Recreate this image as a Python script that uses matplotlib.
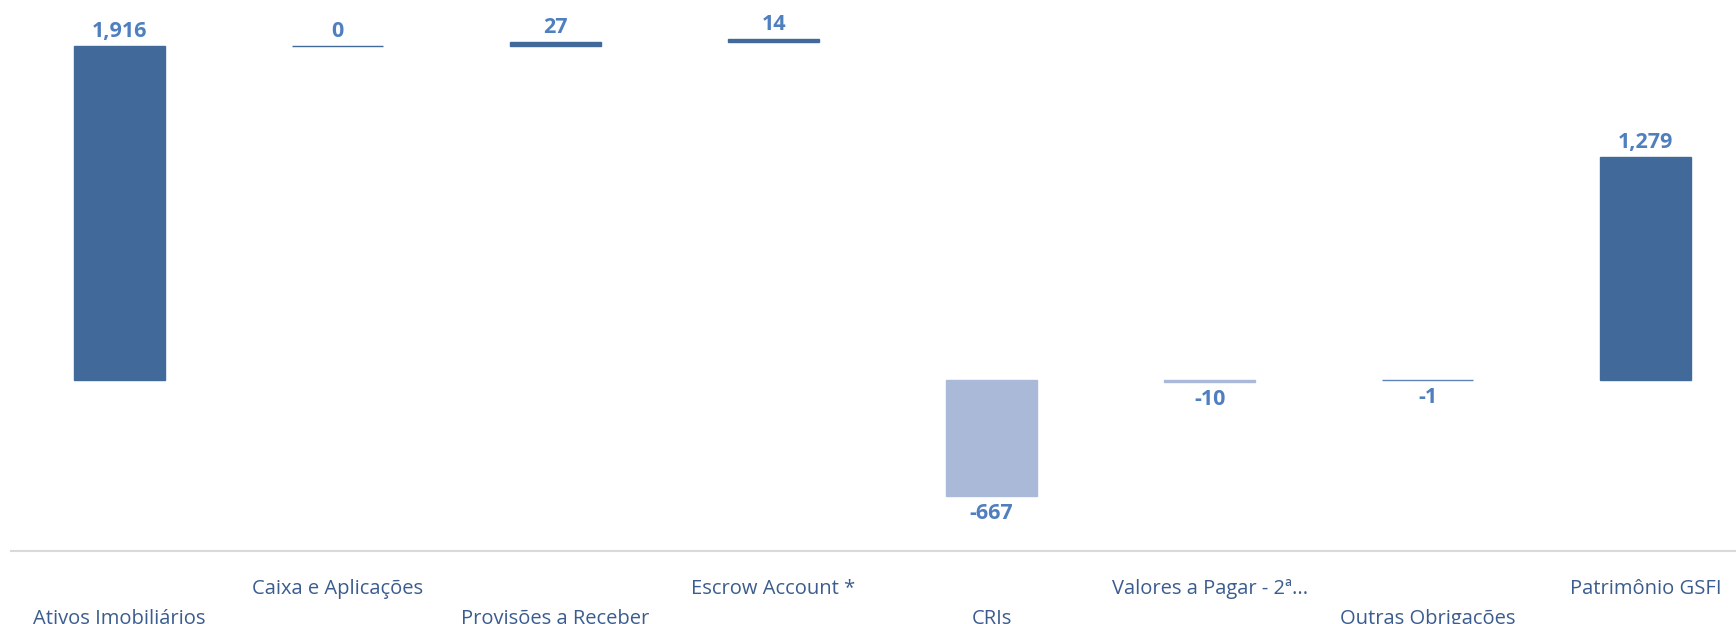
import matplotlib
matplotlib.use("Agg")
import matplotlib.pyplot as plt

categories = ["Ativos Imobiliários", "Caixa e Aplicações", "Provisões a Receber",
              "Escrow Account *", "CRIs", "Valores a Pagar - 2ª...",
              "Outras Obrigações", "Patrimônio GSFI"]
values = [1916, 0, 27, 14, -667, -10, -1, 1279]
labels = ["1,916", "0", "27", "14", "-667", "-10", "-1", "1,279"]

DARK = "#416A9B"
LIGHT = "#AAB9D7"
MID = "#5F82B8"
bar_colors = [DARK, DARK, DARK, DARK, LIGHT, LIGHT, MID, DARK]
VALUE_COLOR = "#4F7FBF"
CAT_COLOR = "#3B5C8E"

plt.rcParams["font.family"] = ["Open Sans", "DejaVu Sans"]

# invisible base series: positives float on the running total,
# negatives stack separately downward from zero (as a stacked chart does)
bottoms = []
running = 0
for i, v in enumerate(values):
    if i == 0 or i == len(values) - 1 or v < 0:
        bottoms.append(0)
    else:
        bottoms.append(running)
    if v > 0:
        running += v

fig = plt.figure(figsize=(17.36, 6.24), dpi=100)
ax = fig.add_axes([10.6 / 1736, (624 - 551) / 624, 1744 / 1736, 551 / 624])

x = list(range(len(categories)))
ax.bar(x, values, bottom=bottoms, width=0.418, color=bar_colors,
       edgecolor=bar_colors, linewidth=1.0)

for i, (v, b, s) in enumerate(zip(values, bottoms, labels)):
    if v >= 0:
        ax.annotate(s, (i, b + v), xytext=(0, 3), textcoords="offset points",
                    ha="center", va="bottom", fontsize=15.5, fontweight="bold",
                    color=VALUE_COLOR)
    else:
        ax.annotate(s, (i, b + v), xytext=(0, -5), textcoords="offset points",
                    ha="center", va="top", fontsize=15.5, fontweight="bold",
                    color=VALUE_COLOR)

ax.set_xlim(-0.5, len(categories) - 0.5)
ax.set_ylim(-982, 2183)
ax.set_yticks([])
ax.set_xticks(x)
ax.set_xticklabels(categories, fontsize=14.5, color=CAT_COLOR)
ax.tick_params(axis="x", length=0)
for i, tick in enumerate(ax.xaxis.get_major_ticks()):
    tick.set_pad(42 if i % 2 == 0 else 20.5)

for side in ["top", "right", "left"]:
    ax.spines[side].set_visible(False)
ax.spines["bottom"].set_color("#D9D9D9")
ax.spines["bottom"].set_linewidth(1.5)

fig.savefig("out.png", dpi=100)
